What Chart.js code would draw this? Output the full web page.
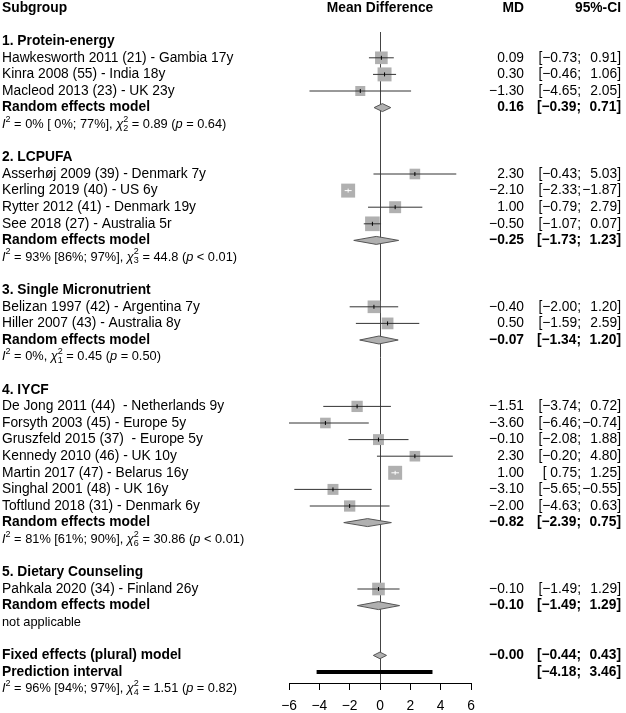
<!DOCTYPE html>
<html>
<head>
<meta charset="utf-8">
<script src="https://cdn.jsdelivr.net/npm/chart.js@4.4.0/dist/chart.umd.min.js"></script>
<style>
  html, body { margin: 0; padding: 0; background: #fff; }
  canvas { display: block; }
</style>
</head>
<body>
<canvas id="forest" width="626" height="713"></canvas>
<script>
// subgroups
var groupNames = ['1. Protein-energy', '2. LCPUFA', '3. Single Micronutrient', '4. IYCF', '5. Dietary Counseling'];
var groupMD    = [0.16, -0.25, -0.07, -0.82, -0.10];
var groupLower = [-0.39, -1.73, -1.34, -2.39, -1.49];
var groupUpper = [0.71, 1.23, 1.20, 0.75, 1.29];
// heterogeneity per subgroup (null = not applicable)
var hetI2 = ['0%', '93%', '0%', '81%', null];
var hetI2CI = ['[ 0%; 77%]', '[86%; 97%]', null, '[61%; 90%]', null];
var hetQ = ['0.89', '44.8', '0.45', '30.86', null];
var hetDf = [2, 3, 1, 6, null];
var hetP = ['= 0.64', '< 0.01', '= 0.50', '< 0.01', null];

// studies
var studyLabels = [
  'Hawkesworth 2011 (21) - Gambia 17y',
  'Kinra 2008 (55) - India 18y',
  'Macleod 2013 (23) - UK 23y',
  'Asserh\u00f8j 2009 (39) - Denmark 7y',
  'Kerling 2019 (40) - US 6y',
  'Rytter 2012 (41) - Denmark 19y',
  'See 2018 (27) - Australia 5r',
  'Belizan 1997 (42) - Argentina 7y',
  'Hiller 2007 (43) - Australia 8y',
  'De Jong 2011 (44)  - Netherlands 9y',
  'Forsyth 2003 (45) - Europe 5y',
  'Gruszfeld 2015 (37)  - Europe 5y',
  'Kennedy 2010 (46) - UK 10y',
  'Martin 2017 (47) - Belarus 16y',
  'Singhal 2001 (48) - UK 16y',
  'Toftlund 2018 (31) - Denmark 6y',
  'Pahkala 2020 (34) - Finland 26y'
];
var studyGroup = [0, 0, 0, 1, 1, 1, 1, 2, 2, 3, 3, 3, 3, 3, 3, 3, 4];
var studyMD    = [0.09, 0.30, -1.30, 2.30, -2.10, 1.00, -0.50, -0.40, 0.50, -1.51, -3.60, -0.10, 2.30, 1.00, -3.10, -2.00, -0.10];
var studyLower = [-0.73, -0.46, -4.65, -0.43, -2.33, -0.79, -1.07, -2.00, -1.59, -3.74, -6.46, -2.08, -0.20, 0.75, -5.65, -4.63, -1.49];
var studyUpper = [0.91, 1.06, 2.05, 5.03, -1.87, 2.79, 0.07, 1.20, 2.59, 0.72, -0.74, 1.88, 4.80, 1.25, -0.55, 0.63, 1.29];
var studyWeight = [6.4, 7.8, 4.0, 4.5, 7.8, 5.7, 8.6, 6.4, 5.5, 5.1, 4.5, 4.8, 4.5, 7.8, 4.8, 5.1, 6.4];

// overall
var fixedMD = -0.004, fixedLower = -0.44, fixedUpper = 0.43;
var predLower = -4.18, predUpper = 3.46;
var overallI2 = '96%', overallI2CI = '[94%; 97%]', overallQ = '1.51', overallDf = 4, overallP = '= 0.82';

var xTicks = [-6, -4, -2, 0, 2, 4, 6];

var FAMILY = '"Liberation Sans", Arial, sans-serif';
var FS = 13.8;
var HET_FS = 12.8;
var PX_PER_UNIT = (471 - 289) / 12;

// row layout
var r = 2;
var groupTitleRow = [], groupSumRow = [], groupHetRow = [], studyRow = [];
groupNames.forEach(function (g, gi) {
  groupTitleRow[gi] = r++;
  studyGroup.forEach(function (sg, si) { if (sg === gi) studyRow[si] = r++; });
  groupSumRow[gi] = r++;
  groupHetRow[gi] = r++;
  r++;
});
var fixedRow = r++, predRow = r++, overallHetRow = r++;

function side(w) { return 5.0 * Math.sqrt(w); }
var inside = studyMD.map(function (m, i) {
  return (studyUpper[i] - studyLower[i]) * PX_PER_UNIT < side(studyWeight[i]);
});

function diamond(m, lo, hi, row, h) {
  return [{x: lo, y: row}, {x: m, y: row - h}, {x: hi, y: row}, {x: m, y: row + h}, {x: lo, y: row}];
}

var datasets = [];
// estimate ticks
datasets.push({
  type: 'scatter',
  data: studyMD.map(function (m, i) { return {x: m, y: studyRow[i]}; }),
  pointStyle: 'line', rotation: 90, pointRadius: 2, pointBorderWidth: 1,
  pointBorderColor: inside.map(function (v) { return v ? '#ffffff' : '#000000'; }),
  order: 1
});
// confidence intervals
studyMD.forEach(function (m, i) {
  datasets.push({
    type: 'line',
    data: [{x: studyLower[i], y: studyRow[i]}, {x: studyUpper[i], y: studyRow[i]}],
    borderColor: inside[i] ? '#ffffff' : '#333333', borderWidth: 1, pointRadius: 0,
    fill: false, order: 2
  });
});
// squares
datasets.push({
  type: 'scatter',
  data: studyMD.map(function (m, i) { return {x: m, y: studyRow[i]}; }),
  pointStyle: 'rect',
  pointRadius: studyWeight.map(function (w) { return side(w) / Math.SQRT2; }),
  pointBackgroundColor: '#b0b0b0', pointBorderWidth: 0, pointBorderColor: '#b0b0b0',
  order: 3
});
// subgroup diamonds
groupMD.forEach(function (m, gi) {
  datasets.push({
    type: 'line',
    data: diamond(m, groupLower[gi], groupUpper[gi], groupSumRow[gi], 0.24),
    borderColor: '#555555', borderWidth: 1, backgroundColor: '#b0b0b0',
    fill: 'shape', pointRadius: 0, tension: 0, order: 4
  });
});
// fixed effects diamond
datasets.push({
  type: 'line',
  data: diamond(fixedMD, fixedLower, fixedUpper, fixedRow, 0.2),
  borderColor: '#555555', borderWidth: 1, backgroundColor: '#b0b0b0',
  fill: 'shape', pointRadius: 0, tension: 0, order: 4
});
// prediction interval
datasets.push({
  type: 'line',
  data: [{x: predLower, y: predRow}, {x: predUpper, y: predRow}],
  borderColor: '#000000', borderWidth: 4, borderCapStyle: 'butt', pointRadius: 0,
  fill: false, order: 4
});

function fmt(v) { var s = Math.abs(v).toFixed(2); return v < 0 ? '\u2212' + s : s; }

function drawHet(ctx, x, y, i2, ci, q, df, p) {
  var cx = x;
  function put(t, style, dy, size) {
    ctx.font = style + (size || HET_FS) + 'px ' + FAMILY;
    ctx.fillText(t, cx, y + (dy || 0));
    cx += ctx.measureText(t).width;
  }
  put('I', 'italic ');
  put('2', '', -5, 9);
  put(' = ' + i2 + (ci ? ' ' + ci : '') + ', ', '');
  put('\u03c7', 'italic ');
  ctx.font = '9px ' + FAMILY;
  ctx.fillText('2', cx, y - 5);
  ctx.fillText(String(df), cx, y + 4);
  cx += Math.max(ctx.measureText('2').width, ctx.measureText(String(df)).width);
  put(' = ' + q + ' (', '');
  put('p', 'italic ');
  put(' ' + p + ')', '');
}

var textPlugin = {
  id: 'forestText',
  afterDraw: function (chart) {
    var ctx = chart.ctx;
    var ys = chart.scales.y;
    ctx.save();
    ctx.fillStyle = '#000';
    ctx.textBaseline = 'middle';
    function text(t, x, row, align, bold) {
      ctx.font = (bold ? 'bold ' : '') + FS + 'px ' + FAMILY;
      ctx.textAlign = align;
      ctx.fillText(t, x, ys.getPixelForValue(row));
    }
    function stats(m, lo, hi, row, bold) {
      if (m !== null) text(fmt(m), 524, row, 'right', bold);
      text('[' + (lo < 0 ? '' : ' ') + fmt(lo) + ';', 581, row, 'right', bold);
      text(fmt(hi) + ']', 621, row, 'right', bold);
    }
    text('Subgroup', 2, 0, 'left', true);
    text('Mean Difference', 380, 0, 'center', true);
    text('MD', 524, 0, 'right', true);
    text('95%-CI', 621, 0, 'right', true);

    groupNames.forEach(function (g, gi) {
      text(g, 2, groupTitleRow[gi], 'left', true);
      text('Random effects model', 2, groupSumRow[gi], 'left', true);
      stats(groupMD[gi], groupLower[gi], groupUpper[gi], groupSumRow[gi], true);
      ctx.textAlign = 'left';
      if (hetI2[gi] === null) {
        ctx.font = HET_FS + 'px ' + FAMILY;
        ctx.fillText('not applicable', 2, ys.getPixelForValue(groupHetRow[gi]));
      } else {
        drawHet(ctx, 2, ys.getPixelForValue(groupHetRow[gi]), hetI2[gi], hetI2CI[gi], hetQ[gi], hetDf[gi], hetP[gi]);
      }
    });
    studyLabels.forEach(function (s, si) {
      text(s, 2, studyRow[si], 'left', false);
      stats(studyMD[si], studyLower[si], studyUpper[si], studyRow[si], false);
    });
    text('Fixed effects (plural) model', 2, fixedRow, 'left', true);
    stats(fixedMD, fixedLower, fixedUpper, fixedRow, true);
    text('Prediction interval', 2, predRow, 'left', true);
    stats(null, predLower, predUpper, predRow, true);
    ctx.textAlign = 'left';
    drawHet(ctx, 2, ys.getPixelForValue(overallHetRow), overallI2, overallI2CI, overallQ, overallDf, overallP);
    ctx.restore();
  }
};

new Chart(document.getElementById('forest'), {
  type: 'scatter',
  data: { datasets: datasets },
  options: {
    responsive: false,
    animation: false,
    devicePixelRatio: 1,
    events: [],
    layout: { padding: { left: 289, right: 155, top: 32, bottom: 0 } },
    plugins: { legend: { display: false }, tooltip: { enabled: false } },
    scales: {
      x: {
        type: 'linear', min: -6, max: 6,
        afterBuildTicks: function (scale) { scale.ticks = xTicks.map(function (v) { return {value: v}; }); },
        afterFit: function (scale) { scale.height = 30; },
        ticks: {
          color: '#000', padding: 8,
          font: { family: FAMILY, size: FS },
          callback: function (v) { return v < 0 ? '\u2212' + Math.abs(v) : String(v); }
        },
        grid: {
          drawOnChartArea: true, drawTicks: true, tickLength: 7,
          color: function (c) { return c.tick && c.tick.value === 0 ? '#444444' : 'rgba(0,0,0,0)'; },
          tickColor: '#000', lineWidth: 1
        },
        border: { display: true, color: '#000', width: 1 }
      },
      y: {
        type: 'linear', reverse: true, display: false,
        min: (32 - 8) / 16.6, max: (683 - 8) / 16.6
      }
    }
  },
  plugins: [textPlugin]
});
</script>
</body>
</html>
